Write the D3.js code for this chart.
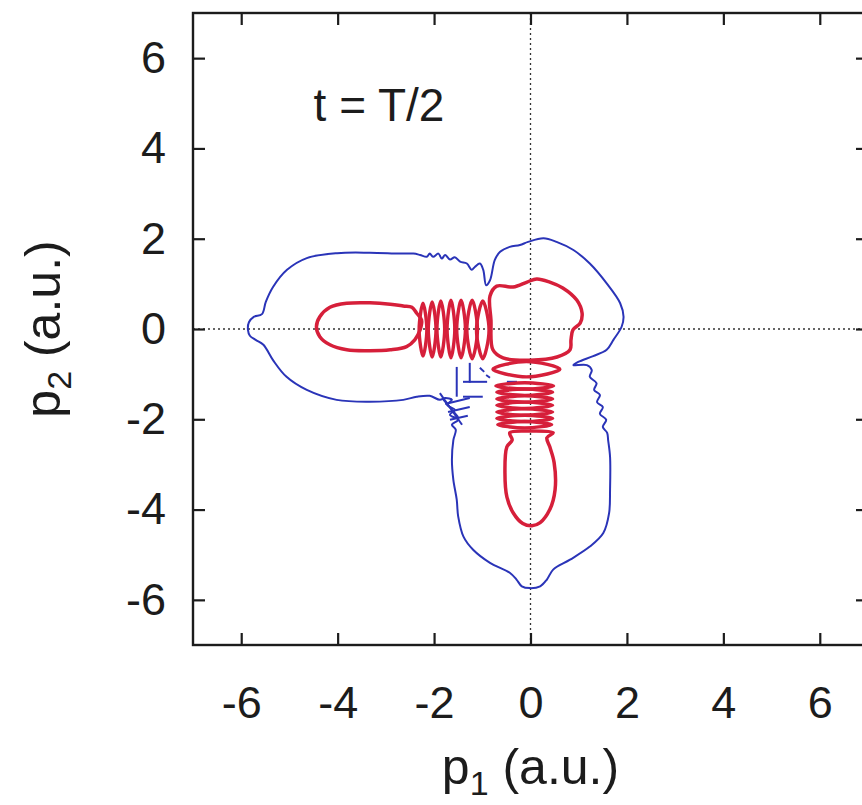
<!DOCTYPE html>
<html>
<head>
<meta charset="utf-8">
<script src="https://cdn.jsdelivr.net/npm/d3@7"></script>
<style>
  body { margin: 0; background: #fff; }
  text { font-family: "Liberation Sans", Arial, Helvetica, sans-serif; fill: #1c1c1c; }
</style>
</head>
<body>
<div id="chart"></div>
<script>
// tick values (same on both axes)
var tickValues = [-6, -4, -2, 0, 2, 4, 6];

// outer (blue) contour, [p1, p2] in a.u.
var blueOuter = [
  [-5.86,-0.02],[-5.84,0.15],[-5.74,0.27],[-5.57,0.33],[-5.49,0.60],[-5.34,0.93],[-5.05,1.31],
  [-4.64,1.57],[-4.01,1.68],[-3.33,1.69],[-2.71,1.67],[-2.43,1.67],[-2.29,1.64],[-2.15,1.60],
  [-2.09,1.67],[-2.02,1.60],[-1.91,1.67],[-1.84,1.56],[-1.77,1.64],[-1.67,1.54],[-1.57,1.59],
  [-1.46,1.49],[-1.32,1.45],[-1.22,1.31],[-1.15,1.38],[-1.05,1.45],[-0.98,1.31],[-0.92,0.97],
  [-0.84,1.08],[-0.74,1.53],[-0.63,1.71],[-0.43,1.82],[-0.22,1.86],[-0.05,1.93],[0.27,2.01],
  [0.54,1.93],[0.89,1.75],[1.23,1.45],[1.58,1.01],[1.86,0.57],[1.93,0.27],[1.89,0.05],
  [1.72,-0.24],[1.58,-0.46],[1.30,-0.60],[0.99,-0.73],[0.89,-0.80],[1.17,-0.80],[1.27,-0.91],
  [1.23,-1.06],[1.37,-1.20],[1.32,-1.35],[1.44,-1.46],[1.38,-1.62],[1.50,-1.73],[1.44,-1.88],
  [1.57,-2.01],[1.50,-2.17],[1.59,-2.30],[1.61,-2.46],[1.65,-2.83],[1.65,-3.56],[1.63,-4.08],
  [1.51,-4.52],[1.23,-4.82],[0.82,-5.11],[0.47,-5.33],[0.34,-5.55],[0.20,-5.70],[-0.01,-5.74],
  [-0.18,-5.70],[-0.29,-5.55],[-0.43,-5.40],[-0.84,-5.18],[-1.19,-4.89],[-1.39,-4.60],[-1.50,-4.15],
  [-1.53,-3.78],[-1.60,-3.34],[-1.63,-2.90],[-1.60,-2.46],[-1.55,-2.23],[-1.63,-2.12],[-1.50,-2.01],
  [-1.67,-1.90],[-1.57,-1.79],[-1.73,-1.68],[-1.63,-1.57],[-1.77,-1.53],[-1.88,-1.57],[-2.09,-1.48],
  [-2.36,-1.50],[-2.64,-1.57],[-3.33,-1.61],[-4.02,-1.57],[-4.64,-1.35],[-5.06,-1.06],[-5.34,-0.69],
  [-5.54,-0.35],[-5.70,-0.24],[-5.82,-0.15]
];

// small blue pieces near (-1.5, -1.5)
var blueBits = [
  [[-1.53,-0.84],[-1.53,-1.50]],
  [[-1.26,-0.75],[-1.26,-1.19]],
  [[-1.40,-1.17],[-0.90,-1.17]],
  [[-1.05,-0.86],[-0.96,-0.95]],
  [[-0.92,-1.02],[-0.84,-1.08]],
  [[-1.88,-1.42],[-1.42,-2.12]],
  [[-1.77,-1.66],[-1.26,-1.53]],
  [[-1.71,-1.84],[-1.26,-1.73]],
  [[-1.67,-2.01],[-1.30,-1.92]],
  [[-1.82,-1.55],[-1.50,-1.95]],
  [[-1.40,-1.50],[-0.99,-1.50]],
  [[-0.49,-1.17],[-0.28,-1.17]]
];

// inner (red) contours
var redLeft = [
  [-4.44,0.05],[-4.37,0.27],[-4.16,0.48],[-3.81,0.57],[-3.33,0.58],[-2.91,0.55],[-2.64,0.51],
  [-2.46,0.48],[-2.36,0.35],[-2.26,0.20],[-2.29,-0.02],[-2.40,-0.24],[-2.57,-0.39],[-2.91,-0.46],
  [-3.33,-0.48],[-3.81,-0.46],[-4.16,-0.35],[-4.37,-0.17]
];
var redCentre = [
  [-0.84,0.73],[-0.70,0.95],[-0.36,0.93],[-0.07,1.04],[0.13,1.11],[0.40,1.04],[0.67,0.91],
  [0.96,0.64],[1.07,0.35],[1.03,0.13],[0.88,-0.02],[0.84,-0.24],[0.82,-0.46],[0.55,-0.62],
  [-0.01,-0.69],[-0.57,-0.64],[-0.78,-0.46],[-0.82,0.20]
];
var redLower = [
  [-0.43,-2.30],[-0.38,-2.46],[-0.49,-2.61],[-0.53,-3.19],[-0.49,-3.72],[-0.36,-4.07],[-0.16,-4.31],
  [0.03,-4.36],[0.20,-4.29],[0.40,-4.00],[0.51,-3.56],[0.49,-2.96],[0.40,-2.61],[0.34,-2.41],
  [0.47,-2.30],[-0.01,-2.26]
];
// interference fringes: [p1 centre, p2 top, p2 bottom, half width]
var fringesP1 = [
  [-2.23,0.57,-0.60,0.08],[-2.04,0.60,-0.62,0.08],[-1.86,0.62,-0.62,0.08],
  [-1.65,0.64,-0.64,0.08],[-1.44,0.64,-0.64,0.09],[-1.21,0.64,-0.66,0.11],[-0.99,0.62,-0.66,0.13]
];
// [p2 centre, p1 left, p1 right, half height]
var fringesP2 = [
  [-0.89,-0.78,0.61,0.17],[-1.26,-0.72,0.48,0.07],[-1.40,-0.70,0.46,0.07],[-1.55,-0.70,0.46,0.07],
  [-1.69,-0.70,0.46,0.07],[-1.84,-0.70,0.46,0.07],[-1.98,-0.70,0.46,0.07],[-2.12,-0.68,0.44,0.07]
];

var width = 862, height = 805;

var svg = d3.select("#chart").append("svg")
  .attr("width", width)
  .attr("height", height);

svg.append("rect").attr("width", width).attr("height", height).attr("fill", "#fff");

var x = d3.scaleLinear().domain([-7, 7]).range([193, 868]);
var y = d3.scaleLinear().domain([-7, 7]).range([645, 13]);

// zero lines
svg.append("line")
  .attr("x1", x(0)).attr("x2", x(0)).attr("y1", y(7)).attr("y2", y(-7))
  .attr("stroke", "#333").attr("stroke-width", 1.3).attr("stroke-dasharray", "2,3");
svg.append("line")
  .attr("x1", x(-7)).attr("x2", x(7)).attr("y1", y(0)).attr("y2", y(0))
  .attr("stroke", "#333").attr("stroke-width", 1.3).attr("stroke-dasharray", "2,3");

var line = d3.line()
  .x(function(d) { return x(d[0]); })
  .y(function(d) { return y(d[1]); });

var loop = d3.line()
  .x(function(d) { return x(d[0]); })
  .y(function(d) { return y(d[1]); })
  .curve(d3.curveCatmullRomClosed.alpha(0.5));

var blue = "#2a34b8", red = "#d61f3a";

svg.append("path").attr("d", loop(blueOuter))
  .attr("fill", "none").attr("stroke", blue).attr("stroke-width", 2);

svg.selectAll(".bit").data(blueBits).enter().append("path")
  .attr("d", line)
  .attr("fill", "none").attr("stroke", blue).attr("stroke-width", 2);

[redLeft, redCentre, redLower].forEach(function(c) {
  svg.append("path").attr("d", loop(c))
    .attr("fill", "none").attr("stroke", red).attr("stroke-width", 3.5);
});

// fringes drawn as closed lens shapes through 4 points
svg.selectAll(".fv").data(fringesP1).enter().append("path")
  .attr("d", function(f) {
    var m = (f[1] + f[2]) / 2;
    return loop([[f[0], f[1]], [f[0] + f[3], m], [f[0], f[2]], [f[0] - f[3], m]]);
  })
  .attr("fill", "none").attr("stroke", red).attr("stroke-width", 3.4);

svg.selectAll(".fh").data(fringesP2).enter().append("path")
  .attr("d", function(f) {
    var m = (f[1] + f[2]) / 2;
    return loop([[f[1], f[0]], [m, f[0] + f[3]], [f[2], f[0]], [m, f[0] - f[3]]]);
  })
  .attr("fill", "none").attr("stroke", red).attr("stroke-width", 3.4);

// axes, ticks pointing inward on all four sides
function styleAxis(g) {
  g.select(".domain").remove();
  g.selectAll(".tick line").attr("stroke", "#1c1c1c").attr("stroke-width", 2.2);
  g.selectAll(".tick text").attr("font-size", 45).attr("fill", "#1c1c1c");
}
var fmt = function(d) { return String(d); };

svg.append("g").attr("transform", "translate(0," + y(-7) + ")")
  .call(d3.axisBottom(x).tickValues(tickValues).tickFormat(fmt).tickSize(-12).tickPadding(41).tickSizeOuter(0))
  .call(styleAxis);
svg.append("g").attr("transform", "translate(0," + y(7) + ")")
  .call(d3.axisTop(x).tickValues(tickValues).tickSize(-12).tickFormat("").tickSizeOuter(0))
  .call(styleAxis);
svg.append("g").attr("transform", "translate(" + x(-7) + ",0)")
  .call(d3.axisLeft(y).tickValues(tickValues).tickFormat(fmt).tickSize(-12).tickPadding(27).tickSizeOuter(0))
  .call(styleAxis);
svg.append("g").attr("transform", "translate(" + x(7) + ",0)")
  .call(d3.axisRight(y).tickValues(tickValues).tickSize(-12).tickFormat("").tickSizeOuter(0))
  .call(styleAxis);

svg.selectAll("g").attr("font-family", null).attr("font-size", null);

// frame
svg.append("rect")
  .attr("x", x(-7)).attr("y", y(7))
  .attr("width", x(7) - x(-7)).attr("height", y(-7) - y(7))
  .attr("fill", "none").attr("stroke", "#1c1c1c").attr("stroke-width", 2.4);

// axis titles
var xt = svg.append("text")
  .attr("x", x(0)).attr("y", 784)
  .attr("text-anchor", "middle").attr("font-size", 50);
xt.append("tspan").text("p");
xt.append("tspan").attr("font-size", 34).attr("dy", 11).text("1");
xt.append("tspan").attr("dy", -11).text(" (a.u.)");

var yt = svg.append("text")
  .attr("transform", "translate(60," + y(0) + ") rotate(-90)")
  .attr("text-anchor", "middle").attr("font-size", 50);
yt.append("tspan").text("p");
yt.append("tspan").attr("font-size", 34).attr("dy", 11).text("2");
yt.append("tspan").attr("dy", -11).text(" (a.u.)");

svg.append("text")
  .attr("x", 379).attr("y", 121)
  .attr("text-anchor", "middle").attr("font-size", 46)
  .text("t = T/2");
</script>
</body>
</html>
